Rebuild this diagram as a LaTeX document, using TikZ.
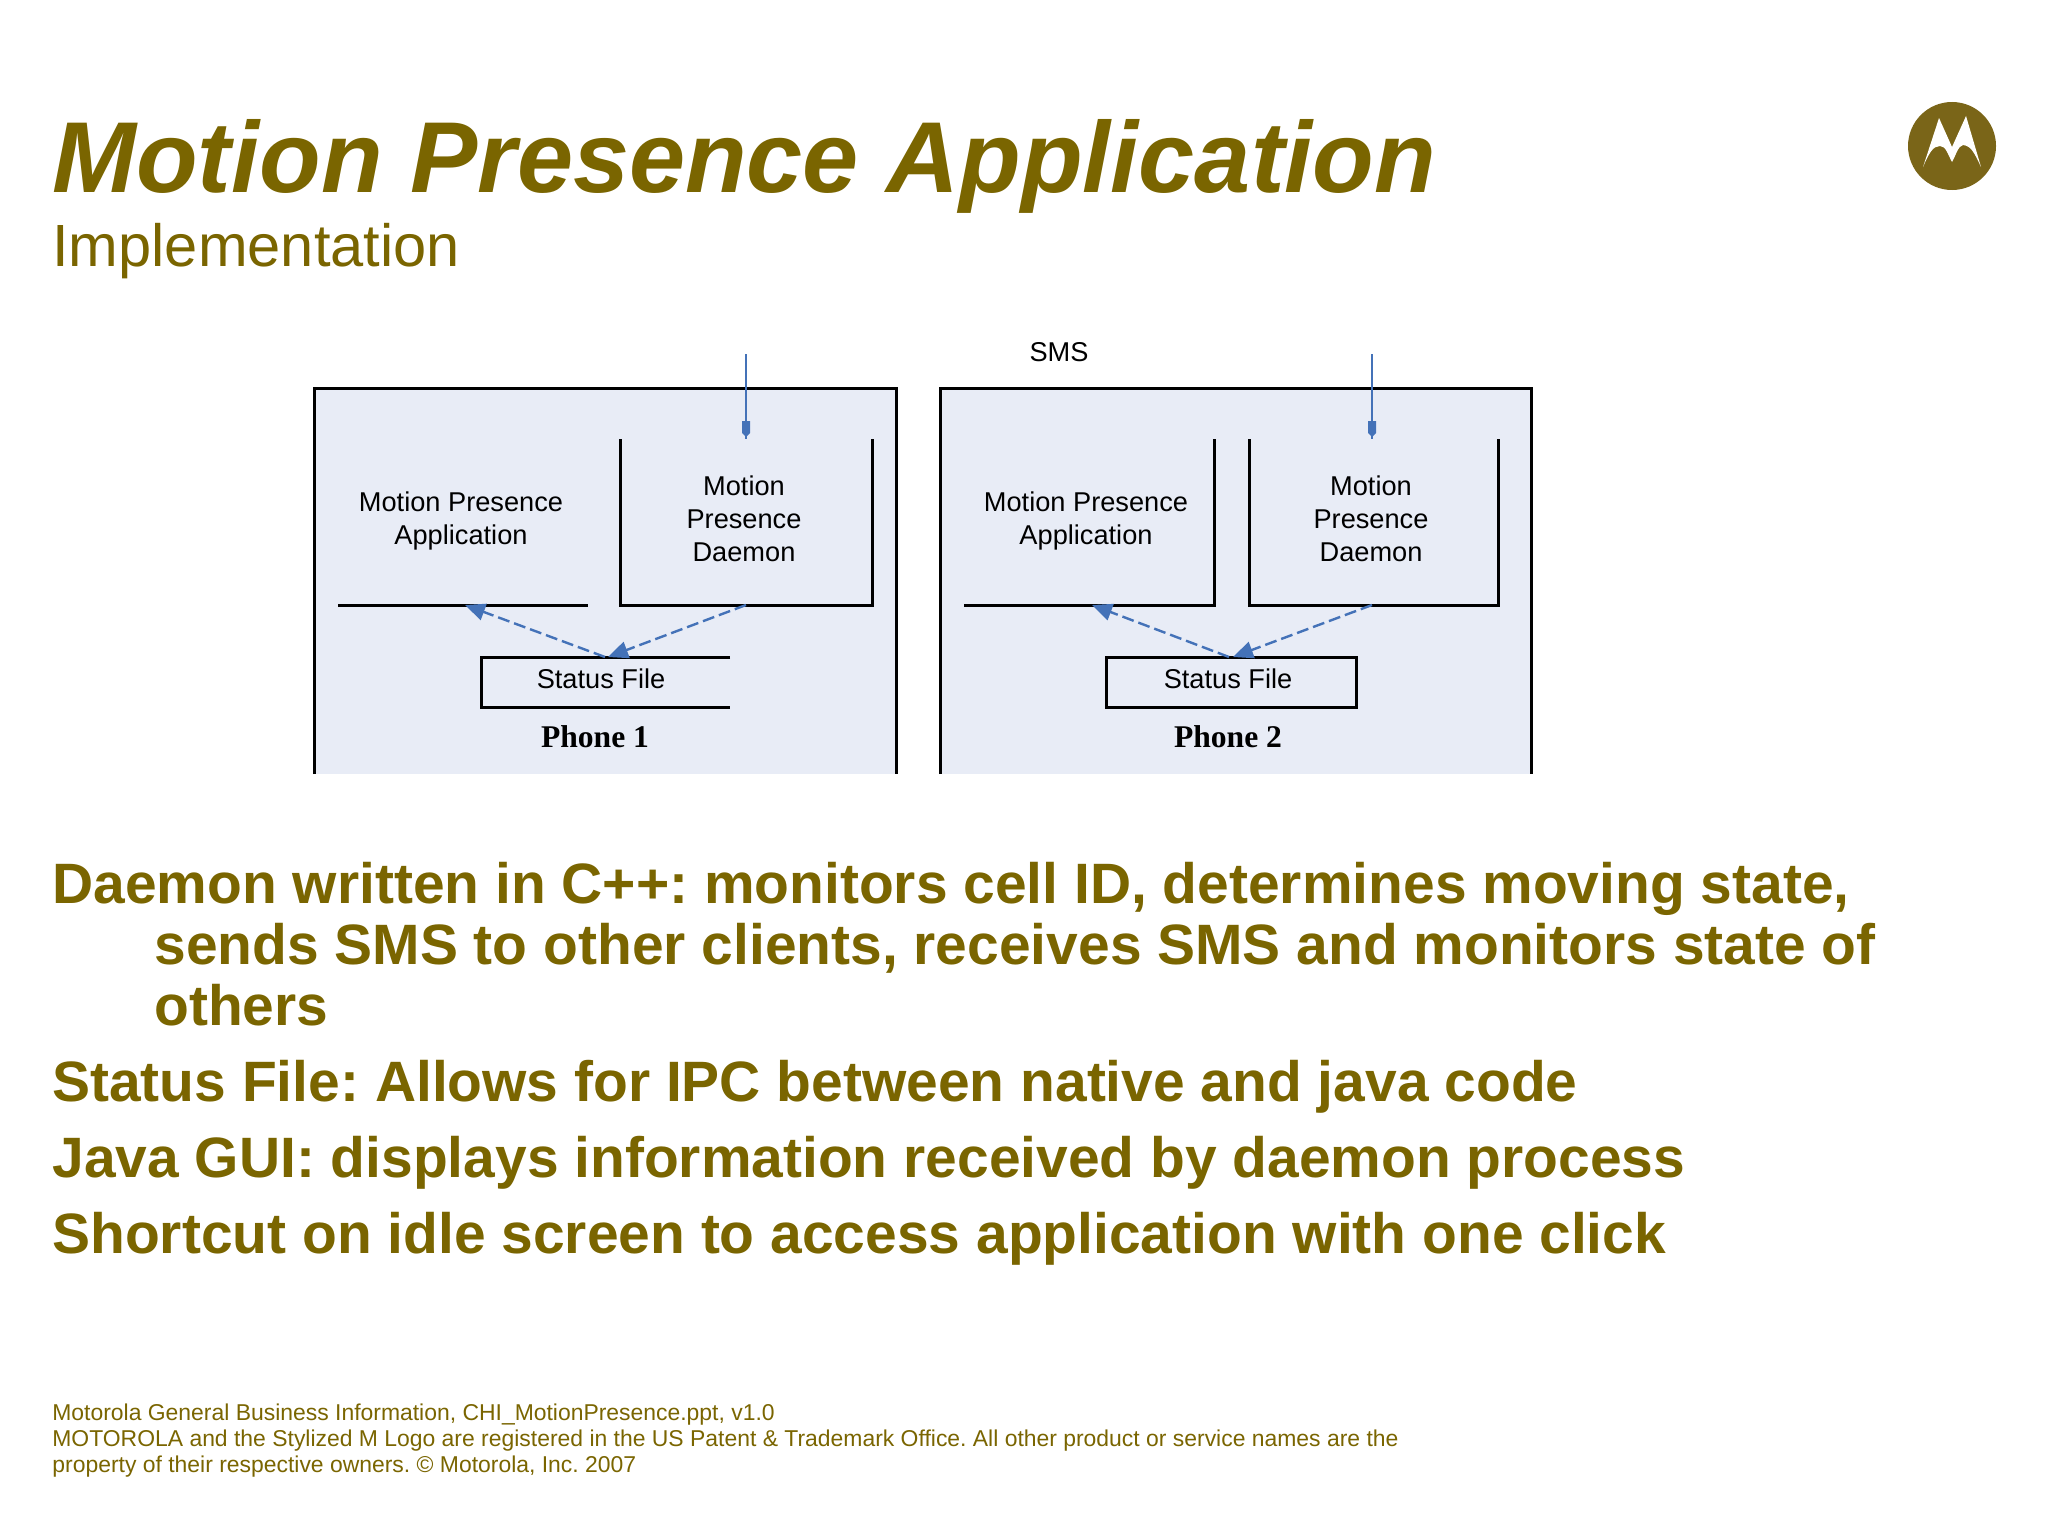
\documentclass[tikz,border=0pt]{standalone}
\usepackage{fontspec}
\setmainfont{Liberation Sans}
\newfontfamily\serifbold[BoldFont={Liberation Serif Bold}]{Liberation Serif}
\usetikzlibrary{arrows.meta}
\definecolor{olive}{RGB}{122,101,0}
\definecolor{logoc}{RGB}{122,101,24}
\definecolor{panel}{RGB}{232,236,246}
\definecolor{wire}{RGB}{68,114,184}
\tikzset{
  x=0.5pt,y=-0.5pt,
  title/.style={anchor=base west,inner sep=0,text=olive,font=\fontsize{50.4pt}{56pt}\selectfont\bfseries\itshape},
  subtitle/.style={anchor=base west,inner sep=0,text=olive,font=\fontsize{29.8pt}{34pt}\selectfont},
  bullet/.style={anchor=base west,inner sep=0,text=olive,align=left,font=\fontsize{28.47pt}{30.5pt}\selectfont\bfseries\frenchspacing},
  foot/.style={anchor=north west,inner sep=0,text=olive,align=left,font=\fontsize{11.46pt}{13pt}\selectfont\frenchspacing},
  lbl/.style={inner sep=0,align=center,text=black,font=\fontsize{13.6pt}{16.5pt}\selectfont},
  phone/.style={anchor=base,inner sep=0,text=black,font=\fontsize{15.8pt}{18pt}\selectfont\serifbold\bfseries},
  edge/.style={draw=black,line width=1.5pt,line cap=butt,line join=miter},
  sig/.style={draw=wire,line width=0.9pt},
  async/.style={draw=wire,line width=1.2pt,dash pattern=on 6pt off 2.5pt,-{Triangle[length=10pt,width=8.5pt,fill=wire]}},
}
\begin{document}
\begin{tikzpicture}
\useasboundingbox (0,0) rectangle (2048,1536);
\fill[white] (0,0) rectangle (2048,1536);

% headings
\node[title] (ttl) at (52,192) {Motion Presence Application};
\node[subtitle] (sub) at (52,266) {Implementation};

% logo
\fill[logoc] (1952,146) circle (44);
\fill[white] (1923,167) -- (1939,118) -- (1952,147) -- (1966,116) -- (1981,167)
  .. controls (1974,152) and (1971,146) .. (1963,145)
  .. controls (1958,146) and (1956,155) .. (1952,162)
  .. controls (1948,155) and (1946,146) .. (1940,146)
  .. controls (1933,146) and (1929,153) .. (1923,167) -- cycle;

% phone panels
\fill[panel] (314,388) rectangle (896,774);
\fill[panel] (940,388) rectangle (1531,774);
\draw[edge] (314,774) -- (314,388) -- (896,388) -- (896,774);
\draw[edge] (940,774) -- (940,388) -- (1531,388) -- (1531,774);

% phone 1 boxes
\coordinate (appAse) at (588,605);
\coordinate (appAin) at (465,605);
\coordinate (dmnAtop) at (746,439); \coordinate (dmnAbot) at (746,605);
\coordinate (statAin) at (605,657); \coordinate (statAout) at (608,657);
\draw[edge] (338,605) -- (appAse);
\draw[edge] (620,439) -- (620,605) -- (872,605) -- (872,439);
\draw[edge] (730,657) -- (481,657) -- (481,707) -- (730,707);
\node[lbl] (appA) at (461,521) {Motion Presence\\Application};
\node[lbl] (dmnA) at (744,519) {Motion\\Presence\\Daemon};
\node[lbl,anchor=base] (statA) at (601,688) {Status File};
\node[phone] (phA) at (595,747) {Phone 1};

% phone 2 boxes
\coordinate (appBin) at (1092,605);
\coordinate (dmnBtop) at (1372,439); \coordinate (dmnBbot) at (1372,605);
\coordinate (statBin) at (1229,657); \coordinate (statBout) at (1233,657);
\draw[edge] (964,605) -- (1214,605) -- (1214,439);
\draw[edge] (1249,439) -- (1249,605) -- (1498,605) -- (1498,439);
\draw[edge] (1106,657) rectangle (1356,707);
\node[lbl] (appB) at (1086,521) {Motion Presence\\Application};
\node[lbl] (dmnB) at (1371,519) {Motion\\Presence\\Daemon};
\node[lbl,anchor=base] (statB) at (1228,688) {Status File};
\node[phone] (phB) at (1228,747) {Phone 2};

% SMS
\node[lbl,anchor=base] (sms) at (1059,361) {SMS};
\coordinate (inA) at (746,354); \coordinate (inB) at (1372,354);
\draw[sig] (inA) -- (dmnAtop);
\draw[sig] (inB) -- (dmnBtop);
\fill[wire] (742,421) -- (750,421) -- (750,433) -- (746,437) -- (742,433) -- cycle;
\fill[wire] (1368,421) -- (1376,421) -- (1376,433) -- (1372,437) -- (1368,433) -- cycle;

% dashed links
\draw[async] (dmnAbot) -- (statAout);
\draw[async] (statAin) -- (appAin);
\draw[async] (dmnBbot) -- (statBout);
\draw[async] (statBin) -- (appBin);

% body
\node[bullet] (b1) at (52,1025) {Daemon written in C++: monitors cell ID, determines moving state,\\\hspace*{51pt}sends SMS to other clients, receives SMS and monitors state of\\\hspace*{51pt}others};
\node[bullet] (b2) at (52,1101.5) {Status File: Allows for IPC between native and java code};
\node[bullet] (b3) at (52,1177.5) {Java GUI: displays information received by daemon process};
\node[bullet] (b4) at (52,1253.5) {Shortcut on idle screen to access application with one click};

% footer
\node[foot] (ft) at (52,1403) {Motorola General Business Information, CHI\_MotionPresence.ppt, v1.0\\MOTOROLA and the Stylized M Logo are registered in the US Patent \& Trademark Office. All other product or service names are the\\property of their respective owners. © Motorola, Inc. 2007};
\end{tikzpicture}
\end{document}
